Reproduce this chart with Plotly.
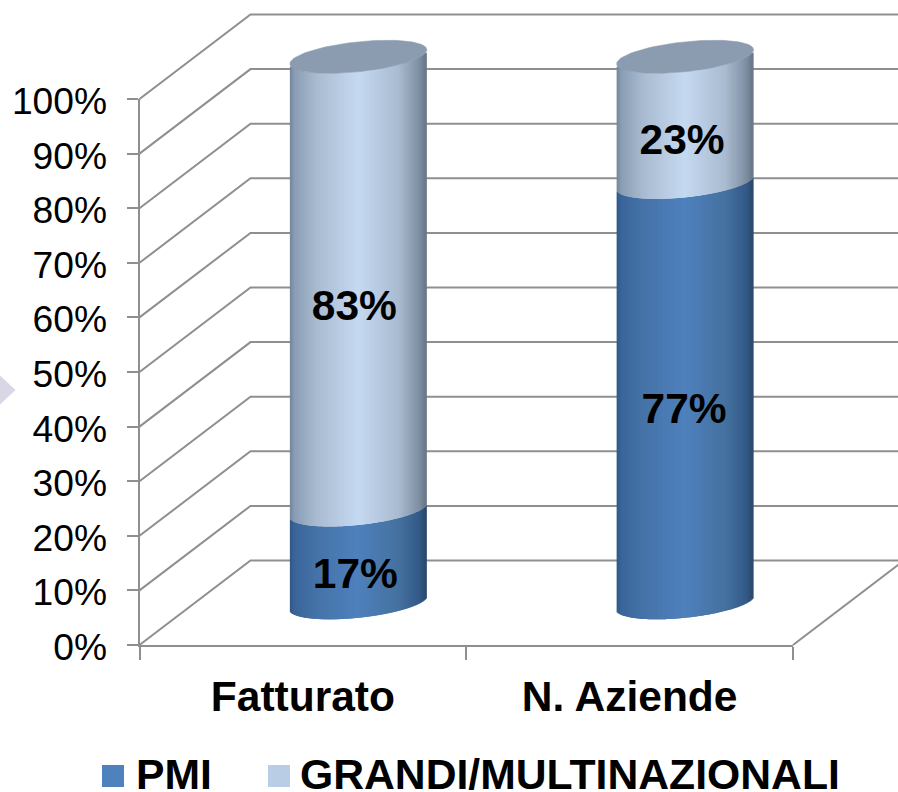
import numpy as np
import plotly.graph_objects as go

# ---- data ----
categories = ["Fatturato", "N. Aziende"]
pmi = [17, 77]
grandi = [83, 23]
series_names = ["PMI", "GRANDI/MULTINAZIONALI"]
y_ticks = [0, 10, 20, 30, 40, 50, 60, 70, 80, 90, 100]
y_tick_labels = ["0%", "10%", "20%", "30%", "40%", "50%", "60%", "70%", "80%", "90%", "100%"]

# ---- geometry of the chart frame (pixels of the 898x792 page) ----
W, H = 898, 792
PX_L, PX_R = 139.5, 793.0      # front plane, left/right
PX_0, PX_100 = 645.0, 99.0     # front plane, 0% / 100%
DEPTH_PX_X, DEPTH_PX_Y = 111.0, 84.5
UX = (PX_R - PX_L) / 2.0       # px per category
UY = (PX_0 - PX_100) / 100.0   # px per percent

x2_range = [-0.5 - PX_L / UX, -0.5 + (W - PX_L) / UX]
y2_range = [-(H - PX_0) / UY, PX_0 / UY]
DX, DY = DEPTH_PX_X / UX, DEPTH_PX_Y / UY

RADIUS = 68.5 / UX
ELL_B = 15.0 / UY
TILT = 7.0 / UY
GRID = "#8f8f8f"
SLICE_PX = 1.0
SLICE_W = 2.5

STOPS = [0, .04, .2, .5, .8, .95, 1]
LIGHT = ["#6f8297", "#8a9eb5", "#aabbd0", "#c5d9f1", "#a9bbd0", "#7f8fa3", "#667483"]
DARK = ["#2f5583", "#3a659a", "#4673a8", "#4f81bd", "#45719f", "#335a88", "#2a4768"]
TOP_COLOR = "#8b9cb1"

# small placement nudges (x px, y px down) of the data labels, by (category, stack level)
LABEL_NUDGE = {(0, 0): (0, 21), (0, 1): (-1, 26), (1, 0): (2, 20), (1, 1): (0, 24)}


def hex2rgb(c):
    return np.array([int(c[i:i + 2], 16) for i in (1, 3, 5)], float)


def shade(stops, t):
    arr = np.array([hex2rgb(c) for c in stops])
    r = [np.interp(t, STOPS, arr[:, k]) for k in range(3)]
    return "rgb(%d,%d,%d)" % tuple(round(v) for v in r)


fig = go.Figure()

# real (invisible) stacked bars carry the categorical axis
for name, vals in zip(series_names, [pmi, grandi]):
    fig.add_trace(go.Bar(x=categories, y=vals, name=name, showlegend=False,
                         marker=dict(color="rgba(0,0,0,0)", line=dict(width=0)), hoverinfo="skip"))

# walls: gridlines projected from the y ticks
for t in y_ticks:
    fig.add_trace(go.Scatter(x=[-0.5, -0.5 + DX, 1.5 + DX], y=[t, t + DY, t + DY],
                             mode="lines", xaxis="x2", yaxis="y2", showlegend=False,
                             hoverinfo="skip", line=dict(color=GRID, width=2)))
# floor right edge
fig.add_trace(go.Scatter(x=[1.5, 1.5 + DX], y=[0, DY], mode="lines",
                         xaxis="x2", yaxis="y2", showlegend=False, hoverinfo="skip",
                         line=dict(color=GRID, width=2)))

# cylinders
n_slices = int(round((2 * 68.5 - SLICE_W) / SLICE_PX))
edge = 1 - (SLICE_W / 2) / 68.5
us = np.linspace(-edge, edge, n_slices)
for i in range(len(categories)):
    cx = i + DX / 2
    base = 0
    for vals, stops in ((pmi, DARK), (grandi, LIGHT)):
        v0, v1 = base, base + vals[i]
        for u in us:
            y0 = v0 + DY / 2 + TILT * u - ELL_B * np.sqrt(1 - u * u)
            y1 = v1 + DY / 2 + TILT * u - ELL_B * np.sqrt(1 - u * u)
            fig.add_trace(go.Scatter(x=[cx + RADIUS * u] * 2, y=[y0, y1], mode="lines",
                                     xaxis="x2", yaxis="y2", showlegend=False, hoverinfo="skip",
                                     line=dict(color=shade(stops, (u + 1) / 2), width=SLICE_W)))
        base = v1
    th = np.linspace(0, 2 * np.pi, 120)
    fig.add_trace(go.Scatter(x=cx + RADIUS * np.cos(th),
                             y=base + DY / 2 + TILT * np.cos(th) + ELL_B * np.sin(th),
                             mode="lines", fill="toself", fillcolor=TOP_COLOR,
                             line=dict(color=TOP_COLOR, width=0.5),
                             xaxis="x2", yaxis="y2", showlegend=False, hoverinfo="skip"))

# data labels
lx, ly, lt = [], [], []
for i in range(len(categories)):
    cx = i + DX / 2 - 3.0 / UX
    for level, (v, mid) in enumerate(((pmi[i], pmi[i] / 2), (grandi[i], pmi[i] + grandi[i] / 2))):
        nx, ny = LABEL_NUDGE[(i, level)]
        lx.append(cx + nx / UX)
        ly.append(mid + DY / 2 - ny / UY)
        lt.append("%d%%" % v)
fig.add_trace(go.Scatter(x=lx, y=ly, text=lt, mode="text", textposition="middle center",
                         xaxis="x2", yaxis="y2", showlegend=False, hoverinfo="skip",
                         textfont=dict(family="Liberation Sans", size=42.5, color="black", weight="bold")))

# decorative triangle cut by the left edge of the slide
fig.add_shape(type="path", xref="paper", yref="paper",
              path="M %f %f L %f %f L %f %f Z" % (-10 / W, 1 - 366 / H, 15.5 / W, 1 - 390 / H, -10 / W, 1 - 414 / H),
              fillcolor="#d9d6e6", line_width=0)

# legend drawn to the reference's size
LEG_Y = 774
for sw_x0, color, tx, label in ((102, "#4f81bd", 134, series_names[0]),
                                (268, "#b9cde5", 298, series_names[1])):
    fig.add_shape(type="rect", xref="paper", yref="paper", x0=sw_x0 / W, x1=(sw_x0 + 22) / W,
                  y0=1 - 787 / H, y1=1 - 765 / H, fillcolor=color, line_width=0)
    fig.add_annotation(text=label, xref="paper", yref="paper", x=tx / W, y=1 - LEG_Y / H,
                       xanchor="left", yanchor="middle", showarrow=False,
                       font=dict(family="Liberation Sans", size=42.7, color="black", weight="bold"))

fig.update_layout(
    template="none",
    width=W, height=H, autosize=False, margin=dict(l=0, r=0, t=0, b=0, pad=0),
    paper_bgcolor="white", plot_bgcolor="rgba(0,0,0,0)", barmode="stack", showlegend=False,
    xaxis=dict(domain=[PX_L / W, PX_R / W], range=[-0.5, 1.5], type="category", tickson="boundaries",
               categoryorder="array", categoryarray=categories, automargin=False,
               showgrid=False, zeroline=False, showline=True, linecolor=GRID, linewidth=2,
               ticks="outside", ticklen=13, tickwidth=2, tickcolor=GRID, anchor="y",
               ticklabelstandoff=13,
               tickfont=dict(family="Liberation Sans", size=42.5, color="black", weight="bold")),
    yaxis=dict(domain=[1 - PX_0 / H, 1 - PX_100 / H], range=[0, 100], tickmode="array", tickvals=y_ticks,
               ticktext=y_tick_labels, automargin=False,
               showgrid=False, zeroline=False, showline=True, linecolor=GRID, linewidth=2,
               ticks="outside", ticklen=11, tickwidth=2, tickcolor=GRID, anchor="x",
               ticklabelstandoff=12, ticklabelshift=2,
               tickfont=dict(family="Liberation Sans", size=37.2, color="black")),
    xaxis2=dict(domain=[0, 1], range=x2_range, visible=False, anchor="y2", fixedrange=True, automargin=False),
    yaxis2=dict(domain=[0, 1], range=y2_range, visible=False, anchor="x2", fixedrange=True, automargin=False),
)

fig.write_html("out.html", config=dict(displayModeBar=False),
               post_script="document.body.style.margin='0';document.body.style.overflow='hidden';")
